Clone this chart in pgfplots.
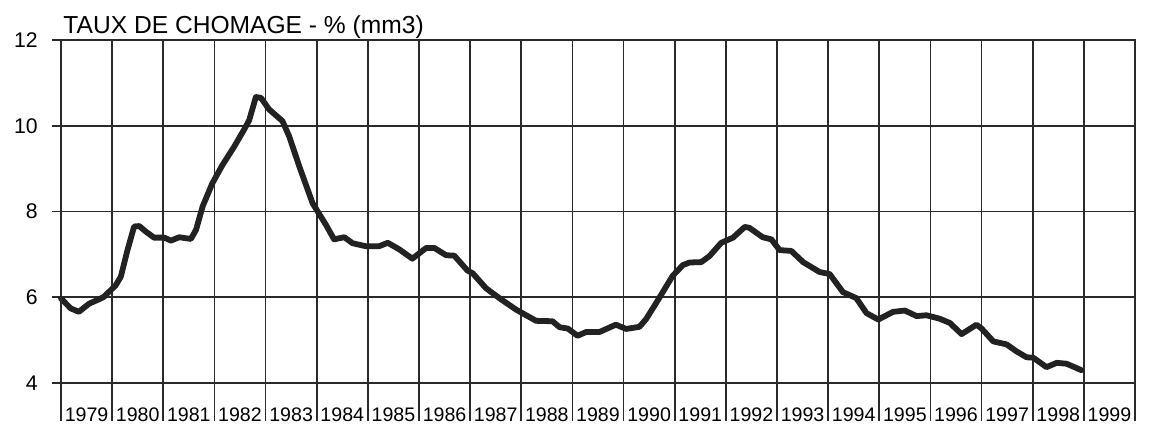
\documentclass[border=0pt]{standalone}
\usepackage{fontspec}
\setmainfont{Liberation Sans}
\usepackage{pgfplots}
\pgfplotsset{compat=1.18}
\definecolor{gridc}{HTML}{2A2A2A}
\definecolor{linec}{HTML}{222222}
\begin{document}
\begin{tikzpicture}
\begin{axis}[
  scale only axis,
  width=537pt, height=171.5pt,
  xmin=1979, xmax=2000, ymin=4, ymax=12,
  /pgf/number format/assume math mode=true,
  axis line style={line width=0.9pt, gridc},
  tick align=outside,
  tick pos=left,
  tick style={line width=0.9pt, gridc},
  major tick length=4.5pt,
  minor tick length=19pt,
  xtick={1979.5,1980.5,1981.5,1982.5,1983.5,1984.5,1985.5,1986.5,1987.5,1988.5,1989.5,1990.5,1991.5,1992.5,1993.5,1994.5,1995.5,1996.5,1997.5,1998.5,1999.5},
  xticklabels={1979,1980,1981,1982,1983,1984,1985,1986,1987,1988,1989,1990,1991,1992,1993,1994,1995,1996,1997,1998,1999},
  every major x tick/.style={draw=none},
  minor xtick={1979,1980,1981,1982,1983,1984,1985,1986,1987,1988,1989,1990,1991,1992,1993,1994,1995,1996,1997,1998,1999,2000},
  ytick={4,6,8,10,12},
  xmajorgrids=false, xminorgrids=true, ymajorgrids=true,
  major grid style={line width=0.9pt, gridc},
  minor grid style={line width=0.9pt, gridc},
  xticklabel style={font=\fontsize{9.8}{11}\selectfont, anchor=base, yshift=-15pt},
  yticklabel style={font=\fontsize{10.6}{12}\selectfont, anchor=east, xshift=-3.6pt},
  clip=false,
]
\addplot[linec, line width=2.9pt, line join=round, line cap=round] coordinates {
(1979.00,5.97) (1979.19,5.74) (1979.35,5.66) (1979.55,5.85) (1979.74,5.95) (1979.84,6.01)
(1980.07,6.28) (1980.17,6.48) (1980.30,7.10) (1980.43,7.65) (1980.53,7.66) (1980.66,7.53)
(1980.82,7.39) (1981.02,7.39) (1981.15,7.32) (1981.31,7.40) (1981.54,7.36) (1981.64,7.57)
(1981.77,8.12) (1981.96,8.66) (1982.16,9.09) (1982.39,9.52) (1982.58,9.91) (1982.68,10.13)
(1982.81,10.67) (1982.91,10.65) (1983.07,10.38) (1983.33,10.11) (1983.46,9.76) (1983.66,9.05)
(1983.92,8.19) (1984.18,7.69) (1984.34,7.35) (1984.54,7.40) (1984.70,7.26) (1984.96,7.19)
(1985.22,7.19) (1985.39,7.27) (1985.61,7.12) (1985.87,6.90) (1986.14,7.15) (1986.30,7.15)
(1986.53,6.98) (1986.69,6.97) (1986.95,6.62) (1987.05,6.56) (1987.31,6.21) (1987.57,5.98)
(1987.90,5.71) (1988.29,5.45) (1988.61,5.44) (1988.75,5.30) (1988.91,5.27) (1989.10,5.10)
(1989.27,5.19) (1989.53,5.19) (1989.85,5.36) (1990.05,5.26) (1990.31,5.31) (1990.44,5.49)
(1990.64,5.87) (1990.96,6.50) (1991.16,6.75) (1991.29,6.81) (1991.52,6.82) (1991.68,6.96)
(1991.91,7.27) (1992.14,7.39) (1992.37,7.64) (1992.46,7.62) (1992.72,7.40) (1992.89,7.35)
(1993.05,7.10) (1993.28,7.08) (1993.51,6.82) (1993.83,6.59) (1994.03,6.54) (1994.29,6.12)
(1994.55,5.98) (1994.75,5.63) (1994.98,5.48) (1995.27,5.66) (1995.50,5.69) (1995.73,5.56)
(1995.92,5.58) (1996.18,5.50) (1996.38,5.40) (1996.61,5.14) (1996.90,5.36) (1997.00,5.27)
(1997.23,4.97) (1997.49,4.90) (1997.68,4.74) (1997.88,4.60) (1998.01,4.59) (1998.27,4.37)
(1998.47,4.47) (1998.66,4.45) (1998.95,4.30)
};
\end{axis}
\draw[line width=1.4pt, gridc] (current axis.north west) -- (current axis.south west) -- (current axis.south east);
\node[anchor=base west, inner sep=0pt, font=\fontsize{12.3}{14}\selectfont] at ([xshift=1pt,yshift=3.4pt]current axis.north west) {TAUX DE CHOMAGE - \% (mm3)};
\pgfresetboundingbox
\path ([xshift=-30.5pt,yshift=-22pt]current axis.south west) rectangle ([xshift=8.5pt,yshift=20pt]current axis.north east);
\end{tikzpicture}
\end{document}
